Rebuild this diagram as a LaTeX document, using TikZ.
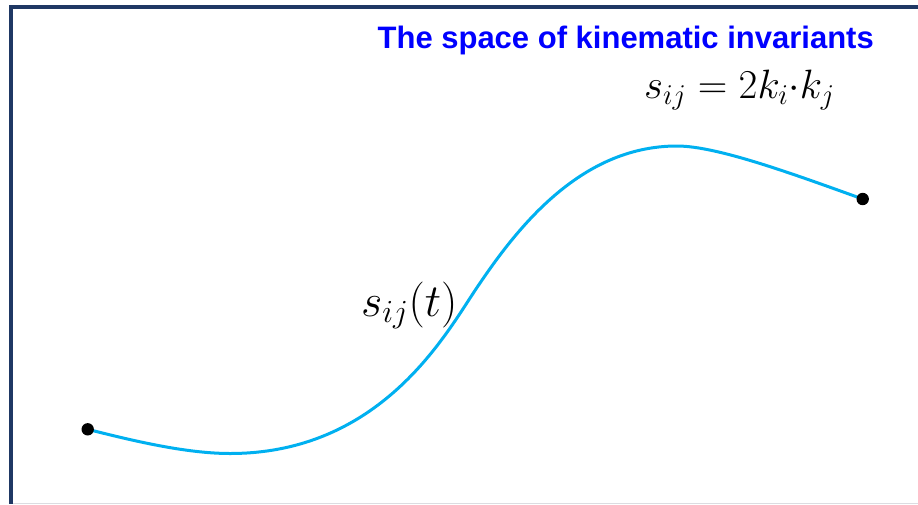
\documentclass[tikz,border=0pt]{standalone}
\usepackage{fix-cm}
\usepackage{fontspec}
\newfontfamily\titlefont{Liberation Sans}
\definecolor{framenavy}{RGB}{31,56,100}
\definecolor{curvecyan}{RGB}{0,176,240}
\definecolor{titleblue}{RGB}{0,0,255}
\definecolor{edgegray}{RGB}{220,220,225}
\tikzset{
  titletext/.style={inner sep=0pt, text=titleblue, font=\titlefont\bfseries\fontsize{31}{37}\selectfont},
  eqtext/.style={inner sep=0pt, font=\fontsize{41}{47}\selectfont},
  labeltext/.style={inner sep=0pt, font=\fontsize{46}{52}\selectfont},
  pathcurve/.style={draw=curvecyan, line width=3pt},
  enddot/.style={fill=black}
}
\begin{document}
\begin{tikzpicture}[x=1pt,y=-1pt]
\useasboundingbox (0,0) rectangle (918,504);
\fill[white] (0,0) rectangle (918,504);
% frame
\fill[framenavy] (9,5) rectangle (918,9);
\fill[framenavy] (9,5) rectangle (13,504);
\fill[edgegray] (13,503) rectangle (918,504);
% texts
\node[titletext, anchor=base east] (title) at (874,48.3) {The space of kinematic invariants};
\node[eqtext, anchor=base west] (eq) at (644,98) {$s_{ij}=2k_i{\cdot}k_j$};
\node[labeltext, anchor=base west] (lab) at (361,316) {$s_{ij}(t)$};
% curve
\coordinate (p0) at (87.7,429.3);
\coordinate (p1) at (862.7,199);
\draw[pathcurve] (p0) .. controls (130,440) and (185,453.5) .. (230,453.5)
  .. controls (380,453.5) and (445,335.5) .. (475,290.5)
  .. controls (515,230.5) and (579,146) .. (677,146)
  .. controls (717,146) and (792.7,173.8) .. (p1);
\fill[enddot] (p0) circle (6.2);
\fill[enddot] (p1) circle (6.2);
\end{tikzpicture}
\end{document}
